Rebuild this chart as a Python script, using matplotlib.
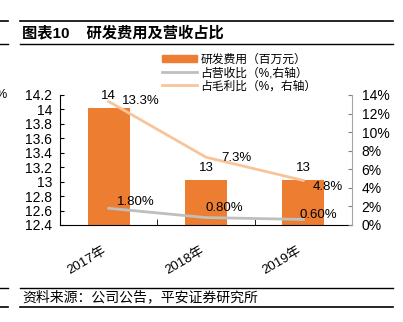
import matplotlib.pyplot as plt
from matplotlib.lines import Line2D
from matplotlib.patches import Patch

plt.rcParams["font.family"] = ["Liberation Sans", "Noto Sans CJK SC", "DejaVu Sans"]

years = ["2017年", "2018年", "2019年"]
rd_cost = [14.02, 13.02, 13.02]          # 研发费用（百万元）
rd_cost_labels = ["14", "13", "13"]
rev_ratio = [1.80, 0.80, 0.60]           # 占营收比 %
gm_ratio = [13.3, 7.3, 4.8]              # 占毛利比 %

BAR = "#ED7D31"
GRAY = "#BFBFBF"
LIGHT = "#F8C49A"

W, H = 403, 322
fig = plt.figure(figsize=(W / 100, H / 100), dpi=100)

ax = fig.add_axes([60 / W, 1 - 225 / H, 292 / W, 130 / H])
x = range(len(years))
ax.bar(x, rd_cost, width=0.43, color=BAR, zorder=2)
ax.set_xlim(-0.5, 2.5)
ax.set_ylim(12.4, 14.2)
ax.set_yticks([12.4 + 0.2 * i for i in range(10)])
ax.set_yticklabels([f"{12.4 + 0.2 * i:g}" for i in range(10)], fontsize=10)
ax.set_xticks(list(x))
ax.set_xticklabels(years, rotation=30, fontsize=9.5, ha="right")
ax.set_xticks([0.5, 1.5], minor=True)
ax.tick_params(axis="x", which="major", length=0, pad=14)
ax.tick_params(axis="x", which="minor", direction="in", length=4)
ax.tick_params(axis="y", direction="in", length=3, pad=5.5)
for s in ["top", "right"]:
    ax.spines[s].set_visible(False)

for i, v in enumerate(rd_cost):
    ax.annotate(rd_cost_labels[i], (i, v), xytext=(0, 6), textcoords="offset pixels",
                ha="center", va="bottom", fontsize=9.5)

ax2 = ax.twinx()
ax2.set_ylim(0, 14)
ax2.set_yticks(range(0, 15, 2))
ax2.set_yticklabels([f"{t}%" for t in range(0, 15, 2)], fontsize=10)
ax2.tick_params(axis="y", direction="in", length=3, pad=7, color="#808080")
for s in ["top", "left", "bottom"]:
    ax2.spines[s].set_visible(False)
ax2.spines["right"].set_color("#A6A6A6")

ax2.plot(list(x), rev_ratio, color=GRAY, lw=2, zorder=3)
ax2.plot(list(x), gm_ratio, color=LIGHT, lw=2, zorder=3)

rev_off = [(27, 6), (18, 10), (15, 4)]
for i, v in enumerate(rev_ratio):
    ax2.annotate(f"{v:.2f}%", (i, v), xytext=rev_off[i], textcoords="offset pixels",
                 ha="center", va="center", fontsize=9.5)
gm_off = [(32, 0), (30, -1), (24, -7)]
for i, v in enumerate(gm_ratio):
    ax2.annotate(f"{v:.1f}%", (i, v), xytext=gm_off[i], textcoords="offset pixels",
                 ha="center", va="center", fontsize=9.5)

handles = [Patch(color=BAR), Line2D([], [], color=GRAY, lw=2), Line2D([], [], color=LIGHT, lw=2)]
labels = ["研发费用（百万元）", "占营收比（%,右轴）", "占毛利比（%，右轴）"]
fig.legend(handles, labels, loc="upper left", bbox_to_anchor=(156 / W, 1 - 48 / H),
           frameon=False, fontsize=8.5, handlelength=3.0, handleheight=0.6,
           handletextpad=0.25, labelspacing=0.1, borderpad=0)

# header / footer rules
for y, lw in [(21, 1.2), (44, 1.0), (288, 1.0), (307, 1.2)]:
    fig.add_artist(Line2D([20 / W, 393 / W], [1 - y / H] * 2, color="black", lw=lw))
    fig.add_artist(Line2D([0, 8 / W], [1 - y / H] * 2, color="black", lw=lw))
fig.text(22 / W, 1 - 33 / H, "图表10    研发费用及营收占比", fontsize=11, fontweight="bold",
         va="center", ha="left")
fig.text(22 / W, 1 - 297 / H, "资料来源：公司公告，平安证券研究所", fontsize=10, style="italic",
         va="center", ha="left")
fig.text(-4 / W, 1 - 95 / H, "%", fontsize=9, va="center", ha="left")

fig.savefig("out.png", dpi=100)
